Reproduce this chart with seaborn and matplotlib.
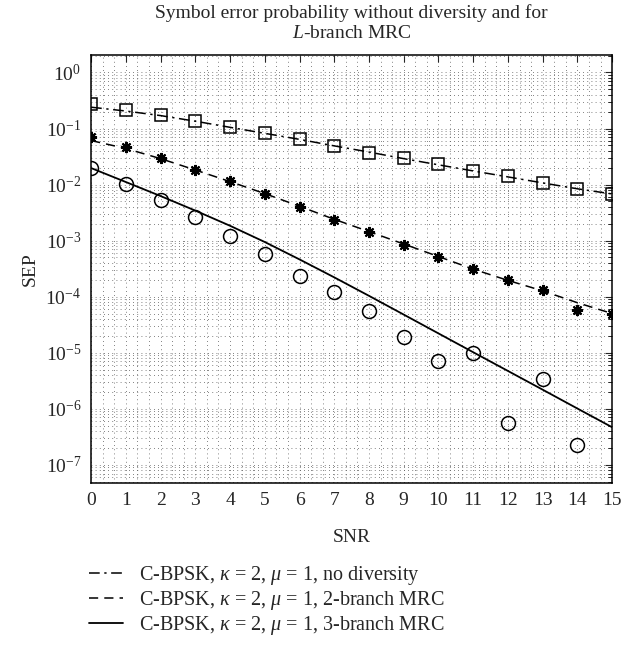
import matplotlib
matplotlib.use('Agg')
import numpy as np
import pandas as pd
import matplotlib.pyplot as plt
import seaborn as sns
from matplotlib.ticker import LogLocator, MultipleLocator, LogFormatterMathtext, NullFormatter
from matplotlib.lines import Line2D

# SNR axis
snr = list(range(16))
snr_sim3 = list(range(15))

# analytical curves
sep_none_curve = [0.24, 0.205, 0.17, 0.135, 0.105, 0.082, 0.064, 0.049,
                  0.038, 0.029, 0.0225, 0.0175, 0.0137, 0.0107, 0.0084, 0.0068]
sep_mrc2_curve = [0.061, 0.044, 0.029, 0.0182, 0.0113, 0.0069, 0.0041, 0.0024,
                  0.00145, 0.00087, 0.00052, 0.00031, 0.000195, 0.000127, 7.8e-5, 5.0e-5]
sep_mrc3_curve = [0.0197, 0.0111, 0.00624, 0.00343, 0.00184, 0.000944, 0.000462, 0.000221,
                  0.0001035, 4.79e-5, 2.21e-5, 1.02e-5, 4.73e-6, 2.19e-6, 1.01e-6, 4.68e-7]

# simulated points
sep_none_sim = [0.27, 0.216, 0.176, 0.138, 0.106, 0.083, 0.065, 0.049,
                0.037, 0.0297, 0.023, 0.0177, 0.014, 0.0108, 0.0083, 0.0069]
sep_mrc2_sim = [0.072, 0.047, 0.0297, 0.0185, 0.0114, 0.0069, 0.0040, 0.00231,
                0.00143, 0.00085, 0.00051, 0.000306, 0.000197, 0.000131, 5.9e-5, 5.0e-5]
sep_mrc3_sim = [0.0197, 0.0104, 0.0052, 0.0026, 0.0012, 0.00057, 0.000233, 0.000123,
                5.6e-5, 1.93e-5, 7.1e-6, 9.8e-6, 5.6e-7, 3.38e-6, 2.28e-7]

legend_labels = [
    r'C-BPSK, $\kappa$ = 2, $\mu$ = 1, no diversity',
    r'C-BPSK, $\kappa$ = 2, $\mu$ = 1, 2-branch MRC',
    r'C-BPSK, $\kappa$ = 2, $\mu$ = 1, 3-branch MRC',
]

sns.set_style('white')
plt.rcParams.update({
    'font.family': 'Liberation Serif',
    'mathtext.fontset': 'custom',
    'mathtext.rm': 'Liberation Serif',
    'mathtext.it': 'Liberation Serif:italic',
    'mathtext.bf': 'Liberation Serif:bold',
    'font.size': 14,
})

dashdot = (0, (7, 3, 1.5, 3))
dashed = (0, (6, 4))
dotgrid = (0, (1, 4))

fig = plt.figure(figsize=(6.24, 6.48), dpi=100)
ax = fig.add_axes([0.146, 0.255, 0.835, 0.66])

sns.lineplot(x=snr, y=sep_none_curve, ax=ax, color='k', lw=1.1, linestyle=dashdot)
sns.lineplot(x=snr, y=sep_mrc2_curve, ax=ax, color='k', lw=1.1, linestyle=dashed)
sns.lineplot(x=snr, y=sep_mrc3_curve, ax=ax, color='k', lw=1.3, linestyle='-')

sns.lineplot(x=snr, y=sep_none_sim, ax=ax, linestyle='none', marker='s', markersize=8,
             markerfacecolor='none', markeredgecolor='k', markeredgewidth=1.1)
sns.lineplot(x=snr, y=sep_mrc2_sim, ax=ax, linestyle='none', marker=(8, 2, 0), markersize=8,
             markerfacecolor='k', markeredgecolor='k', markeredgewidth=1.5)
sns.lineplot(x=snr_sim3, y=sep_mrc3_sim, ax=ax, linestyle='none', marker='o', markersize=10,
             markerfacecolor='none', markeredgecolor='k', markeredgewidth=1.1)

ax.set_yscale('log')
ax.set_xlim(0, 15)
ax.set_ylim(10 ** -7.32, 10 ** 0.31)
ax.set_xticks(snr)
ax.xaxis.set_minor_locator(MultipleLocator(1 / 3))
ax.set_yticks([10.0 ** k for k in range(-7, 1)])
ax.yaxis.set_major_formatter(LogFormatterMathtext())
ax.yaxis.set_minor_locator(LogLocator(base=10, subs=np.arange(2, 10), numticks=30))
ax.yaxis.set_minor_formatter(NullFormatter())

ax.grid(True, which='major', color='0.35', linestyle=dotgrid, linewidth=0.6)
ax.grid(True, which='minor', color='0.35', linestyle=dotgrid, linewidth=0.6)

ax.tick_params(which='both', direction='in', top=True, right=True, labelsize=14)
ax.tick_params(which='major', length=5, width=0.8, pad=7)
ax.tick_params(axis='y', which='minor', length=3, width=0.7)
ax.tick_params(axis='x', which='minor', length=0)
for sp in ax.spines.values():
    sp.set_linewidth(1.1)
    sp.set_color('k')

ax.set_title('Symbol error probability without diversity and for\n$L$-branch MRC',
             fontsize=14, pad=12, linespacing=1.25)
ax.set_xlabel('SNR', fontsize=14, labelpad=14)
ax.set_ylabel('SEP', fontsize=14, labelpad=5)

handles = [
    Line2D([], [], color='k', lw=1.1, linestyle=dashdot),
    Line2D([], [], color='k', lw=1.1, linestyle=dashed),
    Line2D([], [], color='k', lw=1.3, linestyle='-'),
]
fig.legend(handles, legend_labels, loc='upper left', bbox_to_anchor=(0.142, 0.13),
           frameon=False, handlelength=1.7, handletextpad=0.8, labelspacing=0.1,
           borderpad=0, borderaxespad=0, fontsize=14.5)

fig.savefig('out.png', dpi=100)
